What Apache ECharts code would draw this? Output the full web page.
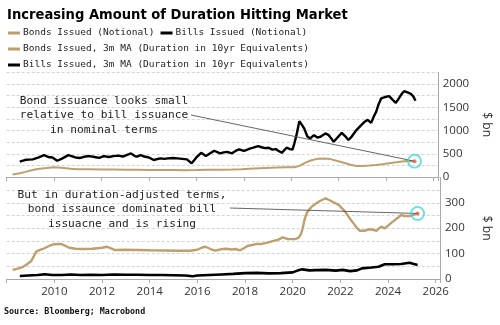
<!DOCTYPE html>
<html><head><meta charset="utf-8">
<script src="https://cdn.jsdelivr.net/npm/echarts@6/dist/echarts.min.js"></script>
<style>html,body{margin:0;padding:0;background:#fff}#c{width:500px;height:325px}</style>
</head><body><div id="c"></div>
<script>
const titleText = 'Increasing Amount of Duration Hitting Market';
const sourceText = 'Source: Bloomberg; Macrobond';
const names = ['Bonds Issued (Notional)', 'Bills Issued (Notional)',
  'Bonds Issued, 3m MA (Duration in 10yr Equivalents)', 'Bills Issued, 3m MA (Duration in 10yr Equivalents)'];
const xTicks = [2010, 2012, 2014, 2016, 2018, 2020, 2022, 2024, 2026];
const topTicks = [0, 500, 1000, 1500, 2000];
const bottomTicks = [0, 100, 200, 300];

// [year, value] — top panel, $ bn notional
const billsNotional = [[2008.55,330],[2008.8,370],[2009.1,380],[2009.35,420],[2009.58,470],[2009.75,430],[2009.93,420],[2010.13,350],[2010.35,400],[2010.6,470],[2010.9,420],[2011.1,410],[2011.3,440],[2011.5,450],[2011.7,430],[2011.9,410],[2012.1,450],[2012.3,430],[2012.5,450],[2012.7,460],[2012.9,440],[2013.05,470],[2013.24,508],[2013.4,450],[2013.5,440],[2013.65,470],[2013.8,440],[2014.0,420],[2014.2,365],[2014.35,386],[2014.5,400],[2014.65,390],[2014.8,400],[2015.0,410],[2015.2,400],[2015.4,390],[2015.6,380],[2015.8,294],[2016.0,420],[2016.2,520],[2016.4,450],[2016.55,500],[2016.75,565],[2017.0,510],[2017.15,530],[2017.3,540],[2017.5,510],[2017.65,560],[2017.8,595],[2018.0,560],[2018.1,580],[2018.25,610],[2018.4,630],[2018.6,665],[2018.75,640],[2018.9,620],[2019.05,630],[2019.2,590],[2019.35,600],[2019.45,565],[2019.6,520],[2019.8,630],[2019.95,600],[2020.05,590],[2020.13,720],[2020.22,900],[2020.34,1200],[2020.45,1120],[2020.55,1040],[2020.68,870],[2020.8,830],[2020.96,900],[2021.1,850],[2021.23,865],[2021.44,937],[2021.58,900],[2021.7,820],[2021.79,758],[2021.95,850],[2022.13,950],[2022.27,880],[2022.41,795],[2022.55,870],[2022.75,1010],[2022.92,1100],[2023.1,1190],[2023.22,1230],[2023.37,1165],[2023.48,1300],[2023.58,1400],[2023.68,1560],[2023.79,1690],[2023.95,1720],[2024.13,1740],[2024.28,1660],[2024.41,1595],[2024.55,1700],[2024.66,1790],[2024.76,1845],[2024.9,1820],[2025.03,1795],[2025.14,1740],[2025.24,1640]];
const bondsNotional = [[2008.25,55],[2008.5,75],[2008.8,110],[2009.05,145],[2009.3,170],[2009.6,190],[2010.0,208],[2010.3,200],[2010.7,175],[2011.0,168],[2011.5,165],[2012.0,162],[2012.5,160],[2013.0,158],[2013.5,155],[2014.0,152],[2014.5,150],[2015.0,148],[2015.5,146],[2016.0,150],[2016.5,155],[2017.0,155],[2017.5,160],[2017.9,168],[2018.4,182],[2018.9,195],[2019.4,205],[2019.8,212],[2020.13,210],[2020.35,240],[2020.6,310],[2020.85,360],[2021.1,390],[2021.38,400],[2021.65,385],[2021.95,343],[2022.25,300],[2022.5,262],[2022.75,236],[2023.0,235],[2023.3,245],[2023.58,258],[2023.9,278],[2024.2,300],[2024.5,322],[2024.87,343],[2025.2,340]];
// bottom panel, duration in 10yr equivalents, 3m MA
const bondsDuration = [[2008.25,36],[2008.5,42],[2008.69,48],[2008.85,58],[2009.03,71],[2009.15,92],[2009.24,108],[2009.4,115],[2009.58,121],[2009.8,131],[2010.0,137],[2010.27,138],[2010.45,131],[2010.62,123],[2010.9,119],[2011.17,118],[2011.6,119],[2012.0,123],[2012.2,127],[2012.4,120],[2012.54,114],[2013.0,115],[2013.5,114],[2014.0,113],[2014.6,112],[2015.2,111],[2015.7,111],[2016.0,115],[2016.2,124],[2016.34,127],[2016.55,118],[2016.75,112],[2017.0,117],[2017.2,119],[2017.45,116],[2017.6,118],[2017.79,113],[2017.95,121],[2018.1,130],[2018.3,134],[2018.5,138],[2018.7,138],[2018.9,142],[2019.2,150],[2019.4,155],[2019.58,164],[2019.8,157],[2020.1,157],[2020.25,163],[2020.34,175],[2020.42,200],[2020.5,235],[2020.6,262],[2020.8,285],[2021.1,305],[2021.38,318],[2021.65,305],[2021.93,292],[2022.2,265],[2022.38,240],[2022.55,219],[2022.7,200],[2022.82,190],[2023.0,190],[2023.24,196],[2023.4,193],[2023.52,190],[2023.62,200],[2023.72,206],[2023.86,199],[2024.0,210],[2024.2,226],[2024.4,240],[2024.55,252],[2024.7,248],[2024.9,248],[2025.05,252],[2025.24,258]];
const billsDuration = [[2008.55,12],[2008.9,14],[2009.3,16],[2009.6,19],[2009.9,16],[2010.3,16],[2010.7,18],[2011.1,16],[2011.5,17],[2012.0,16],[2012.5,18],[2013.0,17],[2013.5,17],[2014.0,16],[2014.5,16],[2015.0,15],[2015.5,14],[2015.8,11],[2016.0,14],[2016.5,16],[2017.0,18],[2017.5,20],[2018.0,23],[2018.5,24],[2019.0,22],[2019.5,23],[2020.0,26],[2020.2,33],[2020.4,38],[2020.7,34],[2021.0,35],[2021.4,36],[2021.8,33],[2022.1,36],[2022.4,31],[2022.7,34],[2022.9,42],[2023.3,45],[2023.6,48],[2023.86,58],[2024.2,58],[2024.55,59],[2024.9,64],[2025.05,60],[2025.24,55]];

const tan = '#bf9f6e', blk = '#000';
const chart = echarts.init(document.getElementById('c'));
const mono = 'DejaVu Sans Mono';
const lblFont = {fontFamily: 'Open Sans', fontSize: 11.5, color: '#333'};
const grids = [{left: 6.7, right: 54, top: 72.4, height: 104.6}, {left: 6.7, right: 54, top: 177.4, height: 101.6}];
const xAx = (i, show) => ({type: 'value', gridIndex: i, min: 2008, max: 2026.18, interval: 2,
  axisLine: {show: true, lineStyle: {color: '#aaa'}}, axisTick: {show: true, length: 4, lineStyle: {color: '#aaa'}},
  splitLine: {show: false},
  axisLabel: {show: show, ...lblFont, margin: 7, formatter: v => xTicks.includes(v) ? String(v) : ''}});
const yAx = (i, max, interval, ticks) => ({type: 'value', gridIndex: i, position: 'right', min: 0, max: max, interval: interval,
  name: '$ bn', nameLocation: 'middle', nameRotate: -90, nameGap: 40, nameTextStyle: {fontFamily: 'Open Sans', fontSize: 12, color: '#333'},
  axisLine: {show: true, lineStyle: {color: '#aaa'}}, axisTick: {show: false},
  splitLine: {show: true, lineStyle: {color: '#d4d4d4', type: [3, 2]}},
  axisLabel: {...lblFont, margin: 5, formatter: v => ticks.includes(v) ? String(v) : ''}});
const line = (name, data, xi, color, w, z) => ({name, type: 'line', xAxisIndex: xi, yAxisIndex: xi, data, showSymbol: false,
  smooth: false, lineStyle: {color, width: w}, itemStyle: {color}, z});
const ring = (xi, pt) => ({type: 'scatter', xAxisIndex: xi, yAxisIndex: xi, data: [pt], symbolSize: 13, silent: true, z: 10,
  itemStyle: {color: 'rgba(0,0,0,0)', borderColor: '#3fd6e6', borderWidth: 1.8}});
const dot = (xi, pt) => ({type: 'scatter', xAxisIndex: xi, yAxisIndex: xi, data: [pt], symbolSize: 4, silent: true, z: 11,
  itemStyle: {color: '#e06050'}});
const legendBase = {left: 3, itemWidth: 12, itemHeight: 3, itemGap: 6, icon: 'rect', selectedMode: false,
  textStyle: {fontFamily: mono, fontSize: 9.5, color: '#222', padding: [0, 0, 0, -2]}};
const lastTop = bondsNotional[bondsNotional.length - 1];
const lastBot = bondsDuration[bondsDuration.length - 1];
chart.setOption({
  animation: false, backgroundColor: '#fff',
  title: {text: titleText, left: 2, top: 3, textStyle: {fontFamily: 'DejaVu Sans Condensed', fontWeight: 'bold', fontSize: 14.6, color: '#000'}},
  legend: [
    {...legendBase, top: 23, data: [names[0], names[1]]},
    {...legendBase, top: 39, data: [names[2]]},
    {...legendBase, top: 55, data: [names[3]]}
  ],
  grid: grids,
  xAxis: [xAx(0, false), xAx(1, true)],
  yAxis: [yAx(0, 2250, 250, topTicks), yAx(1, 400, 50, bottomTicks)],
  series: [
    line(names[0], bondsNotional, 0, tan, 2, 3),
    line(names[1], billsNotional, 0, blk, 2.4, 4),
    line(names[2], bondsDuration, 1, tan, 2.4, 3),
    line(names[3], billsDuration, 1, blk, 2.6, 4),
    ring(0, lastTop), dot(0, lastTop), ring(1, lastBot), dot(1, lastBot)
  ]
});
const pTop = chart.convertToPixel({xAxisIndex: 0, yAxisIndex: 0}, lastTop);
const pBot = chart.convertToPixel({xAxisIndex: 1, yAxisIndex: 1}, lastBot);
const txt = (s, x, y) => ({type: 'text', x, y, style: {text: s, x: 0, y: 0, align: 'center', verticalAlign: 'middle',
  font: '11.2px "DejaVu Sans Mono"', fill: '#222'}, z: 20});
chart.setOption({graphic: [
  txt('Bond issuance looks small', 104, 101),
  txt('relative to bill issuance', 104, 115.5),
  txt('in nominal terms', 104, 130),
  txt('But in duration-adjusted terms,', 122, 195),
  txt('bond issaunce dominated bill', 122, 209.5),
  txt('issuacne and is rising', 122, 224),
  {type: 'line', shape: {x1: 191, y1: 115, x2: pTop[0], y2: pTop[1]}, style: {stroke: '#555', lineWidth: 0.9}, z: 5},
  {type: 'line', shape: {x1: 230, y1: 208, x2: pBot[0], y2: pBot[1]}, style: {stroke: '#555', lineWidth: 0.9}, z: 5},
  {type: 'text', x: 4, y: 312, style: {text: sourceText, verticalAlign: 'middle', font: 'bold 8.4px "DejaVu Sans Mono"', fill: '#111'}, z: 20}
]});
</script></body></html>
